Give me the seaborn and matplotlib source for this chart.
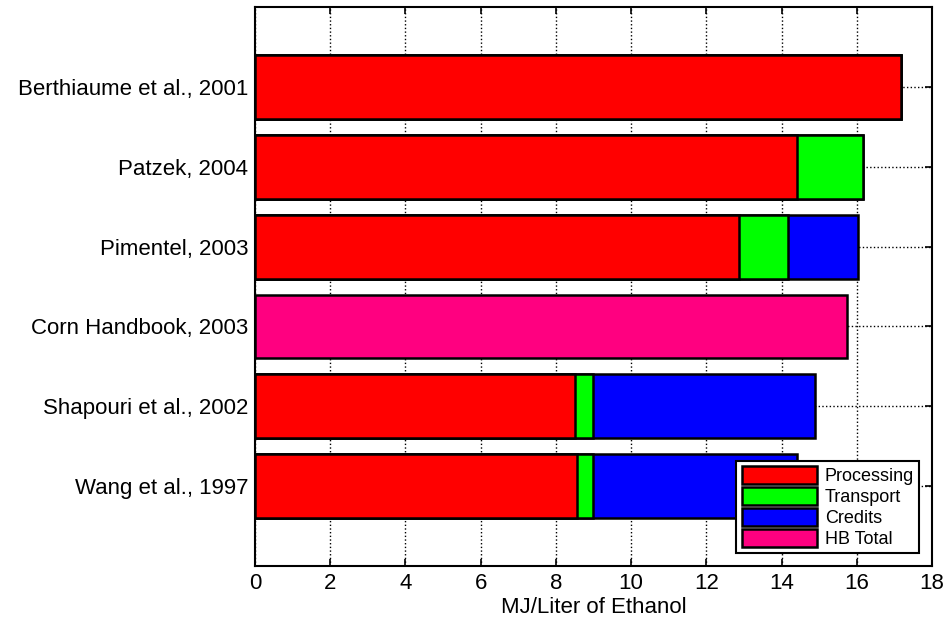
import pandas as pd
import numpy as np
import matplotlib
matplotlib.use('Agg')
import matplotlib.pyplot as plt
import seaborn as sns
from matplotlib.patches import Patch

studies = ['Berthiaume et al., 2001', 'Patzek, 2004', 'Pimentel, 2003',
           'Corn Handbook, 2003', 'Shapouri et al., 2002', 'Wang et al., 1997']
processing = [17.18, 14.42, 12.88, 0.0, 8.52, 8.57]
transport = [0.0, 1.75, 1.28, 0.0, 0.47, 0.42]
credits = [0.0, 0.0, 1.88, 0.0, 5.90, 5.42]
hb_total = [0.0, 0.0, 0.0, 15.74, 0.0, 0.0]

names = ['Processing', 'Transport', 'Credits', 'HB Total']
colors = ['#ff0000', '#00ff00', '#0000ff', '#ff0080']

df = pd.DataFrame({'study': studies, 'Processing': processing,
                   'Transport': transport, 'Credits': credits,
                   'HB Total': hb_total})
# cumulative ends for stacking
df['proc_end'] = df['Processing']
df['trans_end'] = df['proc_end'] + df['Transport']
df['cred_end'] = df['trans_end'] + df['Credits']

sns.set_style('white')
plt.rcParams['font.family'] = ['Liberation Sans', 'DejaVu Sans']
plt.rcParams.update({'text.color': 'black', 'axes.labelcolor': 'black',
                     'xtick.color': 'black', 'ytick.color': 'black'})

fig = plt.figure(figsize=(9.46, 6.22), dpi=100)
ax = fig.add_axes([0.2696, 0.09, 0.7156, 0.8987])

kw = dict(orient='h', width=0.8, edgecolor='black', linewidth=1.8, zorder=3)
layers = [('cred_end', colors[2]), ('trans_end', colors[1]),
          ('proc_end', colors[0]), ('HB Total', colors[3])]
for col, c in layers:
    sub = df[df[col] > 0]
    sns.barplot(data=sub, x=col, y='study', order=studies, color=c,
                saturation=1, ax=ax, **kw)

ax.set_xlim(0, 18)
ax.set_ylim(6, -1)
ax.set_xticks(np.arange(0, 19, 2))
ax.set_xlabel('MJ/Liter of Ethanol', fontsize=16, labelpad=2)
ax.set_ylabel('')
ax.tick_params(axis='both', labelsize=16, direction='in', length=5,
               width=1.2, top=True, right=True, bottom=True, left=True,
               color='black', pad=5)
ax.grid(True, linestyle=':', color='black', linewidth=1.0, zorder=0)
ax.set_axisbelow(True)
for s in ax.spines.values():
    s.set_visible(True)
    s.set_color('black')
    s.set_linewidth(1.5)

handles = [Patch(facecolor=c, edgecolor='black', linewidth=1.8) for c in colors]
leg = ax.legend(handles, names, loc='lower right', fontsize=13,
                handlelength=4.2, handleheight=1.15, labelspacing=0.1,
                handletextpad=0.4, borderpad=0.3, borderaxespad=0.7,
                fancybox=False, framealpha=1, edgecolor='black')
leg.get_frame().set_linewidth(1.5)

fig.savefig('out.png', dpi=100)
